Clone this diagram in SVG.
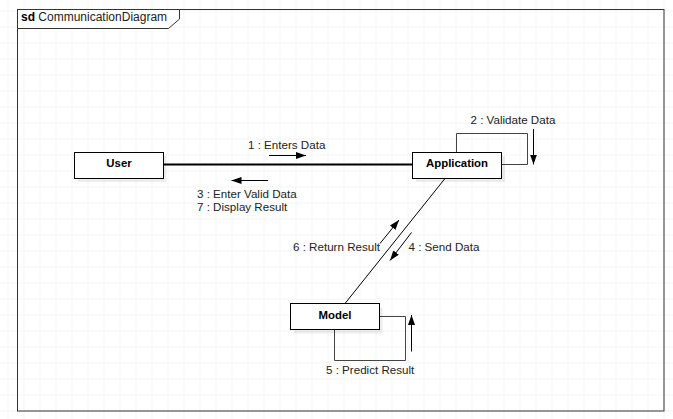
<svg xmlns="http://www.w3.org/2000/svg" width="673" height="419" viewBox="0 0 673 419">
  <defs>
    <pattern id="grid" x="7.5" y="10.5" width="16" height="16" patternUnits="userSpaceOnUse">
      <path d="M0,0 H16 M0,0 V16" fill="none" stroke="#ebebeb" stroke-width="1"/>
    </pattern>
    <marker id="head" viewBox="0 0 10 7" refX="10" refY="3.5" markerWidth="10" markerHeight="7" markerUnits="userSpaceOnUse" orient="auto">
      <path d="M0,0 L10,3.5 L0,7 z" fill="#000"/>
    </marker>
    <style>
      text { font-family: "Liberation Sans", Arial, Helvetica, sans-serif; font-size: 11.6px; fill: #222; }
      .name { font-weight: bold; font-size: 11.4px; fill: #000; text-anchor: middle; }
      .title { font-size: 12px; }
      .box { fill: #fff; stroke: #000; stroke-width: 1; }
      .shadow { fill: #000; opacity: 0.07; }
      .loop { fill: none; stroke: #444; stroke-width: 1; }
      .msg { fill: none; stroke: #000; stroke-width: 1; marker-end: url(#head); }
    </style>
  </defs>

  <rect width="673" height="419" fill="#fff"/>
  <rect width="673" height="419" fill="url(#grid)"/>

  <g id="frame">
    <rect x="17.5" y="9.5" width="646.5" height="401.5" fill="none" stroke="#333" stroke-width="1"/>
    <path d="M17.5,9.5 H179.5 V19 L168.5,28.5 H17.5 Z" fill="#fff" stroke="#333" stroke-width="1"/>
    <text class="title" x="21" y="21"><tspan font-weight="bold" fill="#000">sd</tspan> CommunicationDiagram</text>
  </g>

  <g id="connectors">
    <line x1="163" y1="164.5" x2="412.5" y2="164.5" stroke="#000" stroke-width="2"/>
    <line x1="445" y1="178.5" x2="345" y2="303.5" stroke="#000" stroke-width="1"/>
    <path class="loop" d="M456.5,152 V133.5 H527.5 V164.5 H501.5"/>
    <path class="loop" d="M379.5,316.5 H405.5 V360.5 H334.5 V329.5"/>

    <line class="msg" x1="269" y1="155.5" x2="306" y2="155.5"/>
    <line class="msg" x1="268" y1="180.5" x2="231.5" y2="180.5"/>
    <line class="msg" x1="533.5" y1="129" x2="533.5" y2="164.5"/>
    <line class="msg" x1="380" y1="243.5" x2="399" y2="220"/>
    <line class="msg" x1="411.5" y1="232.5" x2="390" y2="260.5"/>
    <line class="msg" x1="411.5" y1="351.5" x2="411.5" y2="315"/>

    <text x="248" y="149">1 : Enters Data</text>
    <text x="470.5" y="124">2 : Validate Data</text>
    <text x="197" y="197.5">3 : Enter Valid Data</text>
    <text x="197" y="211">7 : Display Result</text>
    <text x="293" y="251">6 : Return Result</text>
    <text x="408.5" y="251">4 : Send Data</text>
    <text x="326" y="374">5 : Predict Result</text>
  </g>

  <g id="user">
    <rect class="shadow" x="77.5" y="156" width="89" height="26"/>
    <rect class="box" x="74.5" y="152.5" width="89" height="26"/>
    <text class="name" x="119" y="167">User</text>
  </g>

  <g id="application">
    <rect class="shadow" x="416" y="156" width="89" height="26"/>
    <rect class="box" x="412.5" y="152.5" width="89" height="26"/>
    <text class="name" x="457" y="167">Application</text>
  </g>

  <g id="model">
    <rect class="shadow" x="293.5" y="307.5" width="89" height="26"/>
    <rect class="box" x="290.5" y="303.5" width="89" height="26"/>
    <text class="name" x="335" y="319">Model</text>
  </g>
</svg>
